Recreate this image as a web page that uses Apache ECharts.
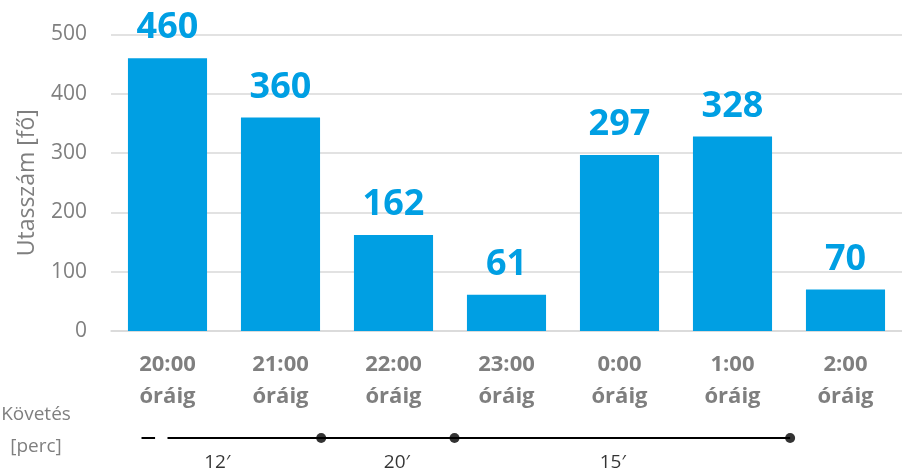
<!DOCTYPE html>
<html><head><meta charset="utf-8">
<script src="https://cdn.jsdelivr.net/npm/echarts@6/dist/echarts.min.js"></script>
<style>html,body{margin:0;padding:0;background:#fff}#c{width:902px;height:474px}</style>
</head><body><div id="c"></div>
<script>
const categories = ['20:00\nóráig','21:00\nóráig','22:00\nóráig','23:00\nóráig','0:00\nóráig','1:00\nóráig','2:00\nóráig'];
const passengers = [460, 360, 162, 61, 297, 328, 70];
const yTicks = [0, 100, 200, 300, 400, 500];
// follow-up timeline (positions in category units from left edge of plot)
const timelineLine = [[0.5, 1], [6.01, 1]];
const timelineDots = [[1.86, 1], [3.04, 1], [6.01, 1]];
const timelineDash = [[0.27, 1], [0.39, 1]];
const intervalLabels = [[0.94, 0, "12′"], [2.53, 0, "20′"], [4.44, 0, "15′"]];

const FONT = '"Open Sans", "Noto Sans", sans-serif';
const BLUE = '#009FE3';
const GRAY = '#7F7F7F';
const chart = echarts.init(document.getElementById('c'));
chart.setOption({
  animation: false,
  textStyle: {fontFamily: FONT},
  grid: [
    {left: 111, right: 0, top: 34.5, bottom: 143},
    {left: 111, right: 0, top: 413, height: 50}
  ],
  xAxis: [
    {type: 'category', gridIndex: 0, data: categories,
     axisLine: {lineStyle: {color: '#D9D9D9', width: 1.5}}, axisTick: {show: false},
     axisLabel: {color: GRAY, fontSize: 22, fontWeight: 'bold', fontFamily: FONT, lineHeight: 32, margin: 18}},
    {type: 'value', gridIndex: 1, min: 0, max: 7, show: false}
  ],
  yAxis: [
    {type: 'value', gridIndex: 0, min: yTicks[0], max: yTicks[yTicks.length-1], interval: 100,
     name: 'Utasszám [fő]', nameLocation: 'middle', nameGap: 72,
     nameTextStyle: {color: GRAY, fontSize: 23, fontFamily: FONT},
     axisLine: {show: false}, axisTick: {show: false},
     axisLabel: {color: GRAY, fontSize: 21, fontFamily: FONT, margin: 24},
     splitLine: {lineStyle: {color: '#D9D9D9', width: 1.5}}},
    {type: 'value', gridIndex: 1, min: 0, max: 2, show: false}
  ],
  graphic: [
    {type: 'text', x: 36, y: 405, style: {text: 'Követés', fill: GRAY, font: '19px ' + FONT, textAlign: 'center'}},
    {type: 'text', x: 36, y: 437, style: {text: '[perc]', fill: GRAY, font: '19px ' + FONT, textAlign: 'center'}}
  ],
  series: [
    {type: 'bar', xAxisIndex: 0, yAxisIndex: 0, data: passengers, barCategoryGap: '30%',
     itemStyle: {color: BLUE},
     label: {show: true, position: 'top', distance: 12, color: BLUE, fontSize: 36, fontWeight: 'bold', fontFamily: FONT}},
    {type: 'line', xAxisIndex: 1, yAxisIndex: 1, data: timelineLine, symbol: 'none',
     lineStyle: {color: '#000', width: 2}},
    {type: 'line', xAxisIndex: 1, yAxisIndex: 1, data: timelineDash, symbol: 'none',
     lineStyle: {color: '#000', width: 2}},
    {type: 'scatter', xAxisIndex: 1, yAxisIndex: 1, data: timelineDots, symbolSize: 10,
     itemStyle: {color: '#000'}},
    {type: 'scatter', xAxisIndex: 1, yAxisIndex: 1, data: intervalLabels, symbolSize: 0,
     label: {show: true, position: 'inside', formatter: p => p.data[2], color: '#000', fontSize: 19, fontFamily: FONT}}
  ]
});
</script></body></html>
